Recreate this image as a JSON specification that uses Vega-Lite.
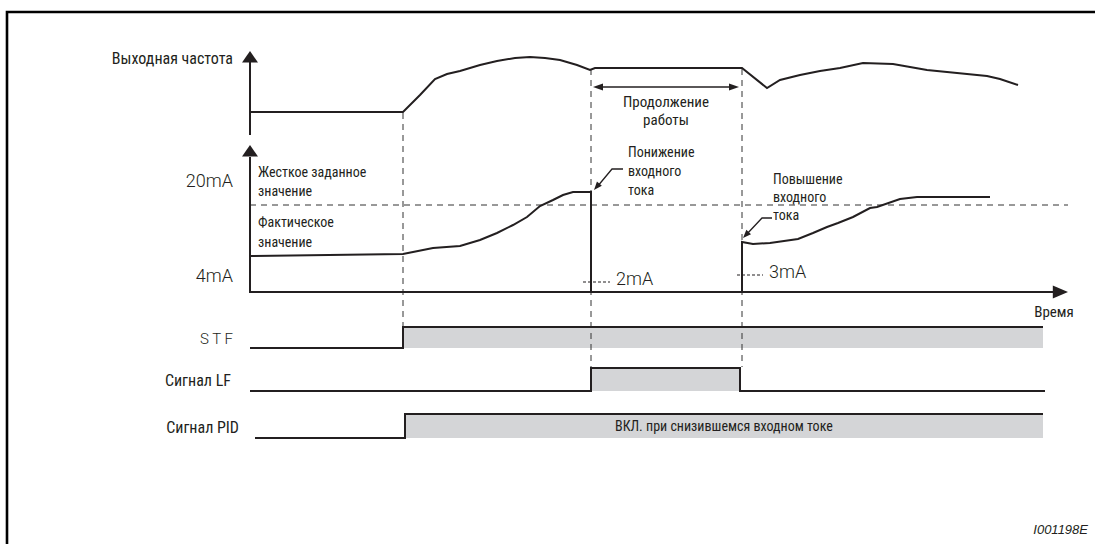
{
  "$schema": "https://vega.github.io/schema/vega-lite/v6.json",
  "width": 1095,
  "height": 544,
  "autosize": {"type": "none"},
  "padding": 0,
  "background": "white",
  "config": {"view": {"stroke": null}},
  "datasets": {
    "frame": [
      {"s": "frame", "i": 0, "t": 7, "v": 546},
      {"s": "frame", "i": 1, "t": 7, "v": 12},
      {"s": "frame", "i": 2, "t": 1097, "v": 12}
    ],
    "curves": [
      {"s": "fa", "i": 0, "t": 250, "v": 62},
      {"s": "fa", "i": 1, "t": 250, "v": 135},
      {"s": "freq", "i": 0, "t": 250, "v": 112},
      {"s": "freq", "i": 1, "t": 403, "v": 112},
      {"s": "freq", "i": 2, "t": 420, "v": 95},
      {"s": "freq", "i": 3, "t": 435, "v": 79},
      {"s": "freq", "i": 4, "t": 447, "v": 74},
      {"s": "freq", "i": 5, "t": 460, "v": 71},
      {"s": "freq", "i": 6, "t": 480, "v": 65},
      {"s": "freq", "i": 7, "t": 497, "v": 61},
      {"s": "freq", "i": 8, "t": 515, "v": 58},
      {"s": "freq", "i": 9, "t": 530, "v": 57},
      {"s": "freq", "i": 10, "t": 545, "v": 58},
      {"s": "freq", "i": 11, "t": 560, "v": 60},
      {"s": "freq", "i": 12, "t": 577, "v": 65},
      {"s": "freq", "i": 13, "t": 590, "v": 70},
      {"s": "freq", "i": 14, "t": 595, "v": 68},
      {"s": "freq", "i": 15, "t": 600, "v": 68},
      {"s": "freq", "i": 16, "t": 742, "v": 68},
      {"s": "freq", "i": 17, "t": 767, "v": 88},
      {"s": "freq", "i": 18, "t": 780, "v": 80},
      {"s": "freq", "i": 19, "t": 800, "v": 75},
      {"s": "freq", "i": 20, "t": 820, "v": 71},
      {"s": "freq", "i": 21, "t": 840, "v": 68},
      {"s": "freq", "i": 22, "t": 863, "v": 63},
      {"s": "freq", "i": 23, "t": 893, "v": 64},
      {"s": "freq", "i": 24, "t": 927, "v": 70},
      {"s": "freq", "i": 25, "t": 957, "v": 73},
      {"s": "freq", "i": 26, "t": 987, "v": 76},
      {"s": "freq", "i": 27, "t": 1000, "v": 79},
      {"s": "freq", "i": 28, "t": 1018, "v": 85},
      {"s": "ca", "i": 0, "t": 250, "v": 157},
      {"s": "ca", "i": 1, "t": 250, "v": 292},
      {"s": "ca", "i": 2, "t": 1054, "v": 292},
      {"s": "cur", "i": 0, "t": 250, "v": 256},
      {"s": "cur", "i": 1, "t": 403, "v": 254},
      {"s": "cur", "i": 2, "t": 413, "v": 252},
      {"s": "cur", "i": 3, "t": 433, "v": 248},
      {"s": "cur", "i": 4, "t": 460, "v": 246},
      {"s": "cur", "i": 5, "t": 480, "v": 240},
      {"s": "cur", "i": 6, "t": 497, "v": 233},
      {"s": "cur", "i": 7, "t": 513, "v": 225},
      {"s": "cur", "i": 8, "t": 527, "v": 217},
      {"s": "cur", "i": 9, "t": 540, "v": 206},
      {"s": "cur", "i": 10, "t": 553, "v": 200},
      {"s": "cur", "i": 11, "t": 563, "v": 195},
      {"s": "cur", "i": 12, "t": 573, "v": 192},
      {"s": "cur", "i": 13, "t": 591, "v": 192},
      {"s": "cur", "i": 14, "t": 591, "v": 292},
      {"s": "cur", "i": 15, "t": 742, "v": 292},
      {"s": "cur", "i": 16, "t": 742, "v": 242},
      {"s": "cur", "i": 17, "t": 753, "v": 244},
      {"s": "cur", "i": 18, "t": 770, "v": 243},
      {"s": "cur", "i": 19, "t": 798, "v": 239},
      {"s": "cur", "i": 20, "t": 813, "v": 233},
      {"s": "cur", "i": 21, "t": 827, "v": 227},
      {"s": "cur", "i": 22, "t": 838, "v": 223},
      {"s": "cur", "i": 23, "t": 853, "v": 217},
      {"s": "cur", "i": 24, "t": 870, "v": 208},
      {"s": "cur", "i": 25, "t": 877, "v": 207},
      {"s": "cur", "i": 26, "t": 900, "v": 199},
      {"s": "cur", "i": 27, "t": 917, "v": 197},
      {"s": "cur", "i": 28, "t": 990, "v": 197},
      {"s": "stf", "i": 0, "t": 250, "v": 348},
      {"s": "stf", "i": 1, "t": 403, "v": 348},
      {"s": "stf", "i": 2, "t": 403, "v": 327},
      {"s": "stf", "i": 3, "t": 1043, "v": 327},
      {"s": "lf", "i": 0, "t": 250, "v": 391},
      {"s": "lf", "i": 1, "t": 591, "v": 391},
      {"s": "lf", "i": 2, "t": 591, "v": 368},
      {"s": "lf", "i": 3, "t": 740, "v": 368},
      {"s": "lf", "i": 4, "t": 740, "v": 391},
      {"s": "lf", "i": 5, "t": 1045, "v": 391},
      {"s": "pid", "i": 0, "t": 255, "v": 438},
      {"s": "pid", "i": 1, "t": 405, "v": 438},
      {"s": "pid", "i": 2, "t": 405, "v": 414},
      {"s": "pid", "i": 3, "t": 1043, "v": 414}
    ],
    "notes": [
      {"s": "n1", "i": 0, "t": 623, "v": 169},
      {"s": "n1", "i": 1, "t": 612, "v": 169},
      {"s": "n1", "i": 2, "t": 597, "v": 187},
      {"s": "n2", "i": 0, "t": 772, "v": 218},
      {"s": "n2", "i": 1, "t": 762, "v": 218},
      {"s": "n2", "i": 2, "t": 746, "v": 235},
      {"s": "n3", "i": 0, "t": 596, "v": 87},
      {"s": "n3", "i": 1, "t": 736, "v": 87}
    ],
    "dashed": [
      {"s": "ref", "i": 0, "t": 250, "v": 205},
      {"s": "ref", "i": 1, "t": 1068, "v": 205},
      {"s": "d1", "i": 0, "t": 403, "v": 113},
      {"s": "d1", "i": 1, "t": 403, "v": 326},
      {"s": "d2", "i": 0, "t": 591, "v": 69},
      {"s": "d2", "i": 1, "t": 591, "v": 367},
      {"s": "d3", "i": 0, "t": 742, "v": 69},
      {"s": "d3", "i": 1, "t": 742, "v": 367}
    ],
    "dotted": [
      {"s": "m2", "i": 0, "t": 583, "v": 282},
      {"s": "m2", "i": 1, "t": 610, "v": 282},
      {"s": "m3", "i": 0, "t": 737, "v": 275},
      {"s": "m3", "i": 1, "t": 763, "v": 275}
    ],
    "bands": [
      {"sig": "STF", "t": 403, "t2": 1043, "v": 327, "v2": 348},
      {"sig": "LF", "t": 591, "t2": 740, "v": 368, "v2": 391},
      {"sig": "PID", "t": 405, "t2": 1043, "v": 414, "v2": 438}
    ],
    "heads": [
      {"h": "up", "t": 250, "v": 51},
      {"h": "up", "t": 250, "v": 145},
      {"h": "right", "t": 1068, "v": 292},
      {"h": "left", "t": 593, "v": 87},
      {"h": "rightSmall", "t": 739, "v": 87},
      {"h": "down1", "t": 594, "v": 190},
      {"h": "down2", "t": 743, "v": 238}
    ],
    "labels": [
      {"role": "axisR", "t": 233, "v": 59, "text": "Выходная частота"},
      {"role": "axisR", "t": 231, "v": 381, "text": "Сигнал LF"},
      {"role": "axisR", "t": 239, "v": 428, "text": "Сигнал PID"},
      {"role": "levelR", "t": 233, "v": 182, "text": "20mA"},
      {"role": "levelR", "t": 233, "v": 277, "text": "4mA"},
      {"role": "stf", "t": 233, "v": 339, "text": "S T F"},
      {"role": "level", "t": 616, "v": 280, "text": "2mA"},
      {"role": "level", "t": 769, "v": 273, "text": "3mA"},
      {"role": "note", "t": 258, "v": 173, "text": "Жесткое заданное"},
      {"role": "note", "t": 258, "v": 192, "text": "значение"},
      {"role": "note", "t": 258, "v": 223, "text": "Фактическое"},
      {"role": "note", "t": 258, "v": 243, "text": "значение"},
      {"role": "note", "t": 628, "v": 153, "text": "Понижение"},
      {"role": "note", "t": 628, "v": 172, "text": "входного"},
      {"role": "note", "t": 628, "v": 191, "text": "тока"},
      {"role": "note", "t": 773, "v": 180, "text": "Повышение"},
      {"role": "note", "t": 773, "v": 198, "text": "входного"},
      {"role": "note", "t": 773, "v": 216, "text": "тока"},
      {"role": "note", "t": 615, "v": 427, "text": "ВКЛ. при снизившемся входном токе"},
      {"role": "center", "t": 666, "v": 102, "text": "Продолжение"},
      {"role": "center", "t": 666, "v": 120, "text": "работы"},
      {"role": "center", "t": 1054, "v": 312, "text": "Время"},
      {"role": "code", "t": 1088, "v": 530, "text": "I001198E"}
    ]
  },
  "encoding": {
    "x": {"field": "t", "type": "quantitative", "scale": {"domain": [0, 1095], "nice": false, "zero": false}, "axis": null},
    "y": {"field": "v", "type": "quantitative", "scale": {"domain": [0, 544], "reverse": true, "nice": false, "zero": false}, "axis": null}
  },
  "layer": [
    {
      "data": {"name": "bands"},
      "mark": {"type": "rect", "color": "#d4d5d7"},
      "encoding": {"x2": {"field": "t2"}, "y2": {"field": "v2"}}
    },
    {
      "data": {"name": "dashed"},
      "mark": {"type": "line", "color": "#333333", "strokeWidth": 1, "strokeDash": [6, 5]},
      "encoding": {"detail": {"field": "s"}, "order": {"field": "i"}}
    },
    {
      "data": {"name": "dotted"},
      "mark": {"type": "line", "color": "#231f20", "strokeWidth": 1.2, "strokeDash": [3, 2]},
      "encoding": {"detail": {"field": "s"}, "order": {"field": "i"}}
    },
    {
      "data": {"name": "curves"},
      "mark": {"type": "line", "color": "#231f20", "strokeWidth": 2, "strokeJoin": "miter"},
      "encoding": {"detail": {"field": "s"}, "order": {"field": "i"}}
    },
    {
      "data": {"name": "notes"},
      "mark": {"type": "line", "color": "#231f20", "strokeWidth": 1.3},
      "encoding": {"detail": {"field": "s"}, "order": {"field": "i"}}
    },
    {
      "data": {"name": "frame"},
      "mark": {"type": "line", "color": "#000000", "strokeWidth": 2.6},
      "encoding": {"detail": {"field": "s"}, "order": {"field": "i"}}
    },
    {
      "data": {"name": "heads"},
      "mark": {"type": "point", "filled": true, "opacity": 1, "color": "#231f20", "size": 256, "strokeWidth": 0},
      "encoding": {
        "shape": {
          "field": "h",
          "type": "nominal",
          "legend": null,
          "scale": {
            "domain": ["up", "right", "left", "rightSmall", "down1", "down2"],
            "range": [
              "M0,0L1,1.45L-1,1.45Z",
              "M0,0L-1.9,-0.8L-1.9,0.8Z",
              "M0,0L1.25,-0.45L1.25,0.45Z",
              "M0,0L-1.25,-0.45L-1.25,0.45Z",
              "M0,0L0.98,-0.52L0.37,-1.05Z",
              "M0,0L1,-0.46L0.42,-1.02Z"
            ]
          }
        }
      }
    },
    {
      "data": {"name": "labels"},
      "transform": [{"filter": "datum.role === 'axisR'"}],
      "mark": {"type": "text", "align": "right", "baseline": "middle", "font": "Liberation Sans Narrow, Roboto Condensed, DejaVu Sans Condensed, Roboto", "fontSize": 16, "color": "#231f20"},
      "encoding": {"text": {"field": "text"}}
    },
    {
      "data": {"name": "labels"},
      "transform": [{"filter": "datum.role === 'levelR'"}],
      "mark": {"type": "text", "align": "right", "baseline": "middle", "font": "Roboto", "fontWeight": 300, "fontSize": 18, "color": "#231f20"},
      "encoding": {"text": {"field": "text"}}
    },
    {
      "data": {"name": "labels"},
      "transform": [{"filter": "datum.role === 'stf'"}],
      "mark": {"type": "text", "align": "right", "baseline": "middle", "font": "Roboto", "fontWeight": 300, "fontSize": 15, "color": "#231f20"},
      "encoding": {"text": {"field": "text"}}
    },
    {
      "data": {"name": "labels"},
      "transform": [{"filter": "datum.role === 'level'"}],
      "mark": {"type": "text", "align": "left", "baseline": "middle", "font": "Roboto", "fontWeight": 300, "fontSize": 18, "color": "#231f20"},
      "encoding": {"text": {"field": "text"}}
    },
    {
      "data": {"name": "labels"},
      "transform": [{"filter": "datum.role === 'note'"}],
      "mark": {"type": "text", "align": "left", "baseline": "middle", "font": "Liberation Sans Narrow, Roboto Condensed, DejaVu Sans Condensed, Roboto", "fontSize": 14, "color": "#231f20"},
      "encoding": {"text": {"field": "text"}}
    },
    {
      "data": {"name": "labels"},
      "transform": [{"filter": "datum.role === 'center'"}],
      "mark": {"type": "text", "align": "center", "baseline": "middle", "font": "Liberation Sans Narrow, Roboto Condensed, DejaVu Sans Condensed, Roboto", "fontSize": 15, "color": "#231f20"},
      "encoding": {"text": {"field": "text"}}
    },
    {
      "data": {"name": "labels"},
      "transform": [{"filter": "datum.role === 'code'"}],
      "mark": {"type": "text", "align": "right", "baseline": "middle", "font": "Liberation Sans", "fontStyle": "italic", "fontSize": 13, "color": "#231f20"},
      "encoding": {"text": {"field": "text"}}
    }
  ]
}
